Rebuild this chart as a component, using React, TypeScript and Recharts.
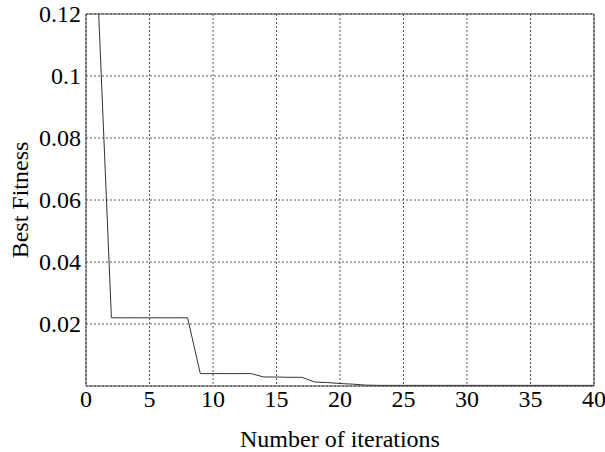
import { CartesianGrid, Label, Line, LineChart, ReferenceLine, XAxis, YAxis } from 'recharts';

const iterations = [1, 2, 3, 4, 5, 6, 7, 8, 9, 10, 11, 12, 13, 14, 15, 16, 17, 18, 19, 20, 21, 22, 23, 24, 25, 26, 27, 28, 29, 30, 31, 32, 33, 34, 35, 36, 37, 38, 39, 40];
const bestFitness = [
    0.12, 0.022, 0.022, 0.022, 0.022, 0.022, 0.022, 0.022, 0.004, 0.004,
    0.004, 0.004, 0.004, 0.0029, 0.0029, 0.0028, 0.0028, 0.0013, 0.0011, 0.0008,
    0.0006, 0.0003, 0.0002, 0.0002, 0.0002, 0.0002, 0.0002, 0.0002, 0.0002, 0.0002,
    0.0002, 0.0002, 0.0002, 0.0002, 0.0002, 0.0002, 0.0002, 0.0002, 0.0002, 0.0002,
];
const xTicks = [0, 5, 10, 15, 20, 25, 30, 35, 40];
const yTicks = [0.02, 0.04, 0.06, 0.08, 0.1, 0.12];

const data = iterations.map((it, i) => ({ it, fit: bestFitness[i] }));

const font = '"Liberation Serif", "Times New Roman", serif';
const textStyle = { fontFamily: font, fontSize: 24, fill: '#000' };

function XTick({ x, y, payload }: any) {
    return (
        <text x={x} y={y} dy="0.71em" textAnchor="middle" style={textStyle}>
            {payload.value}
        </text>
    );
}

function YTick({ x, y, payload }: any) {
    return (
        <text x={x} y={y} dy="0.34em" textAnchor="end" style={textStyle}>
            {String(payload.value)}
        </text>
    );
}

export default function App() {
    return (
        <div style={{ position: 'absolute', left: 0, top: 0, background: '#fff' }}>
            <LineChart width={605} height={452} data={data} margin={{ top: 14, right: 11, left: 0, bottom: 0 }}>
                <CartesianGrid stroke="#555" strokeDasharray="2 2" />
                <XAxis
                    dataKey="it"
                    type="number"
                    domain={[0, 40]}
                    ticks={xTicks}
                    tickSize={0}
                    tickMargin={4}
                    height={66}
                    stroke="#444"
                    tick={<XTick />}
                    interval={0}
                >
                    <Label
                        content={() => (
                            <text x={340} y={447} textAnchor="middle" style={textStyle}>
                                Number of iterations
                            </text>
                        )}
                    />
                </XAxis>
                <YAxis
                    type="number"
                    domain={[0, 0.12]}
                    ticks={yTicks}
                    tickSize={0}
                    tickMargin={5}
                    width={86}
                    stroke="#444"
                    tick={<YTick />}
                    interval={0}
                >
                    <Label
                        content={() => (
                            <text x={28} y={200} transform="rotate(-90 28 200)" textAnchor="middle" style={textStyle}>
                                Best Fitness
                            </text>
                        )}
                    />
                </YAxis>
                <ReferenceLine y={0.12} stroke="#444" />
                <ReferenceLine x={40} stroke="#444" />
                <Line type="linear" dataKey="fit" stroke="#333" strokeWidth={1} dot={false} isAnimationActive={false} />
            </LineChart>
        </div>
    );
}
